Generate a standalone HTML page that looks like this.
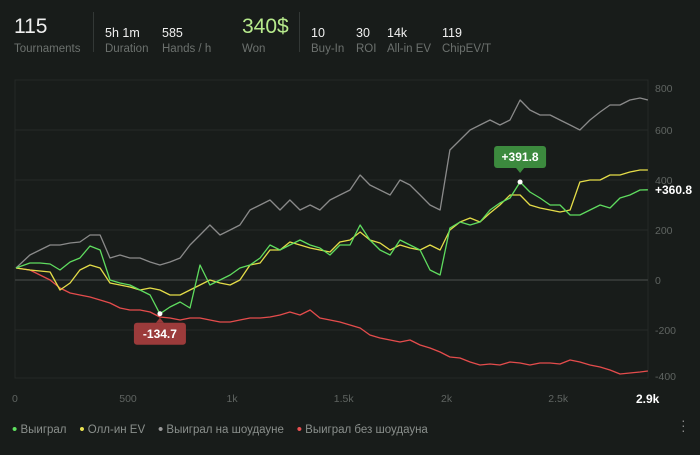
<!DOCTYPE html>
<html><head><meta charset="utf-8"><style>
body{margin:0;background:#181c1a;width:700px;height:455px;overflow:hidden;font-family:"Liberation Sans",sans-serif;position:relative}
.t{position:absolute;white-space:nowrap}
.v{color:#f0f0f0;font-size:12.5px}
.l{color:#6c716e;font-size:11.5px}
.sep{position:absolute;width:1px;background:#333836;top:12px;height:40px}
.dot{font-size:15px;vertical-align:-1px}
</style></head><body>
<div>
<div class="t" style="left:14px;top:15px;font-size:21px;color:#eee">115</div>
<div class="t l" style="left:14px;top:43px">Tournaments</div>
<div class="sep" style="left:93px"></div>
<div class="t v" style="left:105px;top:26px">5h 1m</div>
<div class="t l" style="left:105px;top:43px">Duration</div>
<div class="t v" style="left:162px;top:26px">585</div>
<div class="t l" style="left:162px;top:43px">Hands / h</div>
<div class="t" style="left:242px;top:15px;font-size:21px;color:#b7ea8c">340$</div>
<div class="t l" style="left:242px;top:43px">Won</div>
<div class="sep" style="left:299px"></div>
<div class="t v" style="left:311px;top:26px">10</div>
<div class="t l" style="left:311px;top:43px">Buy-In</div>
<div class="t v" style="left:356px;top:26px">30</div>
<div class="t l" style="left:356px;top:43px">ROI</div>
<div class="t v" style="left:387px;top:26px">14k</div>
<div class="t l" style="left:387px;top:43px">All-in EV</div>
<div class="t v" style="left:442px;top:26px">119</div>
<div class="t l" style="left:442px;top:43px">ChipEV/T</div>
</div>
<svg id="chart" width="700" height="455" style="position:absolute;left:0;top:0"></svg>
<div style="position:absolute;left:12px;top:421px;font-size:11.5px;color:#8a8f8c">
<span><span class="dot" style="color:#5fe05f">•</span> Выиграл</span>&nbsp;&nbsp;&nbsp;
<span><span class="dot" style="color:#e8e050">•</span> Олл-ин EV</span>&nbsp;&nbsp;&nbsp;
<span><span class="dot" style="color:#999">•</span> Выиграл на шоудауне</span>&nbsp;&nbsp;&nbsp;
<span><span class="dot" style="color:#e85050">•</span> Выиграл без шоудауна</span>
</div>
<div class="t" style="left:681px;top:418px;color:#888;font-size:14px;line-height:5px">·<br>·<br>·</div>
<script>
const hands=[0,65,112,159,205,252,298,345,392,438,485,531,578,625,671,718,765,811,858,904,951,998,1044,1091,1138,1184,1231,1277,1324,1371,1417,1464,1510,1557,1604,1650,1697,1744,1790,1837,1884,1930,1977,2023,2070,2117,2163,2210,2256,2303,2350,2396,2443,2490,2536,2583,2629,2676,2723,2769,2816,2862,2909,2946];
const won=[48,68,68,64,40,72,88,136,120,0,-12,-20,-40,-60,-135,-108,-88,-112,60,-20,0,20,48,60,88,140,120,140,160,140,128,100,140,140,220,160,120,100,160,140,120,40,20,208,232,220,232,280,308,328,392,352,328,300,300,260,260,280,300,288,328,340,360,361];
const allinEv=[48,40,36,32,-40,-12,40,60,48,-12,-20,-28,-40,-32,-40,-60,-60,-40,-20,0,-12,-20,0,60,68,120,120,152,140,128,120,112,152,160,192,160,148,120,140,128,120,140,120,200,232,248,232,268,300,340,340,300,288,280,272,280,392,400,400,420,420,432,440,440];
const showdown=[48,100,120,140,140,148,152,180,180,88,100,88,88,72,60,72,88,140,180,220,180,200,220,280,300,320,280,320,280,300,280,320,340,360,420,380,360,340,400,380,340,300,280,520,560,600,620,640,620,640,720,680,660,660,640,620,600,640,672,700,700,720,728,720];
const nonShowdown=[48,40,20,0,-32,-52,-60,-68,-80,-92,-112,-120,-120,-128,-148,-152,-160,-152,-152,-160,-168,-168,-160,-152,-152,-148,-140,-128,-140,-120,-152,-160,-168,-180,-192,-220,-232,-240,-248,-240,-260,-272,-288,-308,-312,-328,-340,-336,-340,-328,-332,-340,-332,-332,-336,-320,-328,-340,-348,-360,-376,-372,-368,-364];
const yTicks=[600,400,200,0,-200];
const yLabels=[800,600,400,200,0,-200,-400];
const xTicks=[0,500,1000,1500,2000,2500];
const xTickLabels=["0","500","1k","1.5k","2k","2.5k"];
const NS="http://www.w3.org/2000/svg";
const svg=document.getElementById('chart');
const X=h=>16+h*0.2145, Y=v=>280-v*0.25;
function mk(tag,attrs,txt){const e=document.createElementNS(NS,tag);for(const k in attrs)e.setAttribute(k,attrs[k]);if(txt!==undefined)e.textContent=txt;svg.appendChild(e);return e;}
let e=mk('rect',{x:15,y:80,width:633,height:298,fill:'none',stroke:'#252927'});


yTicks.forEach(v=>{const g=mk('line',{x1:15,x2:648,y1:Y(v),y2:Y(v),stroke:v===0?'#3a3e3c':'#262a28','stroke-width':v===0?1.5:1});

});
yLabels.forEach(v=>{const yy=Math.min(Math.max(Y(v)+4,92),380);const t=mk('text',{x:655,y:yy,fill:'#5f6461','font-size':10.5},String(v));

});
xTicks.forEach((v,i)=>{const t=mk('text',{x:X(v)-4,y:402,fill:'#5f6461','font-size':10.5},xTickLabels[i]);

});
e=mk('text',{x:636,y:403,fill:'#fff','font-size':12,'font-weight':'bold'},'2.9k');


function line(vals,color,name){const d=vals.map((v,i)=>(i?'L':'M')+X(hands[i]).toFixed(1)+','+Y(v).toFixed(1)).join('');
const p=mk('path',{d:d,fill:'none',stroke:color,'stroke-width':1.3,'stroke-linejoin':'round'});

}
line(showdown,'#8a8a8a','showdown-line');
line(nonShowdown,'#e44c4c','non-showdown-line');
line(allinEv,'#e4dc48','allin-ev-line');
line(won,'#5fdc5f','won-line');
let mi=0,ma=0;won.forEach((v,i)=>{if(v<won[mi])mi=i;if(v>won[ma])ma=i;});
function badge(i,text,fill,above,name){const cx=X(hands[i]),cy=Y(won[i]);
mk('circle',{cx:cx,cy:cy,r:2.5,fill:'#fff'});
const w=52,h=22,by=above?cy-36:cy+9;
const g=mk('rect',{x:cx-26,y:by,width:w,height:h,rx:3,fill:fill});


mk('path',{d:above?`M${cx-4},${by+h}L${cx},${by+h+5}L${cx+4},${by+h}Z`:`M${cx-4},${by}L${cx},${by-5}L${cx+4},${by}Z`,fill:fill});
const t=mk('text',{x:cx,y:by+15,fill:'#fff','font-size':12,'font-weight':'bold','text-anchor':'middle'},text);

}
badge(mi,'-134.7','#9c3b3b',false,'min-badge');
badge(ma,'+391.8','#3c8a3e',true,'max-badge');
e=mk('text',{x:655,y:Y(won[won.length-1])+4,fill:'#fff','font-size':12,'font-weight':'bold'},'+360.8');


</script>
</body></html>
